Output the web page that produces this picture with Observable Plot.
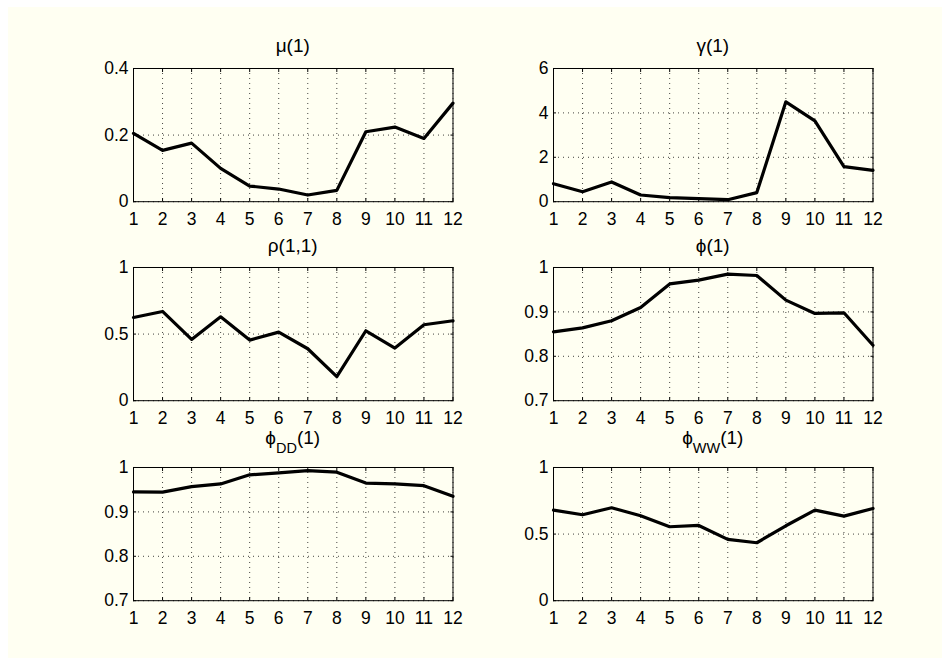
<!DOCTYPE html>
<html>
<head>
<meta charset="utf-8">
<script src="https://cdn.jsdelivr.net/npm/d3@7"></script>
<script src="https://cdn.jsdelivr.net/npm/@observablehq/plot@0.6"></script>
<style>
  html, body { margin: 0; padding: 0; background: #ffffff; }
  #page { position: relative; width: 950px; height: 665px; overflow: hidden; background: #ffffff; }
  #paper { position: absolute; left: 8px; top: 7px; width: 934px; height: 651px; background: #fffff2; }
  .panel { position: absolute; overflow: visible; }
</style>
</head>
<body>
<div id="page"><div id="paper"></div></div>
<script>
// Monthly parameter estimates
const months = [1, 2, 3, 4, 5, 6, 7, 8, 9, 10, 11, 12];
const muValues    = [0.205, 0.154, 0.176, 0.100, 0.047, 0.038, 0.020, 0.034, 0.210, 0.224, 0.190, 0.296];
const gammaValues = [0.81, 0.45, 0.89, 0.30, 0.18, 0.14, 0.09, 0.41, 4.50, 3.64, 1.58, 1.41];
const rhoValues   = [0.625, 0.670, 0.460, 0.630, 0.455, 0.515, 0.390, 0.180, 0.525, 0.395, 0.570, 0.600];
const phiValues   = [0.855, 0.864, 0.880, 0.910, 0.963, 0.9715, 0.985, 0.982, 0.9265, 0.8965, 0.898, 0.825];
const phiDDValues = [0.945, 0.9445, 0.957, 0.963, 0.9835, 0.988, 0.993, 0.9895, 0.965, 0.963, 0.959, 0.935];
const phiWWValues = [0.680, 0.645, 0.6975, 0.6375, 0.555, 0.565, 0.460, 0.435, 0.5625, 0.680, 0.635, 0.6925];

// Axis ticks
const muTicks    = [0, 0.2, 0.4];
const gammaTicks = [0, 2, 4, 6];
const unitTicks  = [0, 0.5, 1];
const phiTicks   = [0.7, 0.8, 0.9, 1];

// Panel titles: base symbol, optional subscript, trailing argument
const titles = [
  ["μ", "", "(1)"],
  ["γ", "", "(1)"],
  ["ρ", "", "(1,1)"],
  ["ϕ", "", "(1)"],
  ["ϕ", "DD", "(1)"],
  ["ϕ", "WW", "(1)"]
];

const panels = [
  {title: titles[0], values: muValues,    domain: [0, 0.4], ticks: muTicks},
  {title: titles[1], values: gammaValues, domain: [0, 6],   ticks: gammaTicks},
  {title: titles[2], values: rhoValues,   domain: [0, 1],   ticks: unitTicks},
  {title: titles[3], values: phiValues,   domain: [0.7, 1], ticks: phiTicks},
  {title: titles[4], values: phiDDValues, domain: [0.7, 1], ticks: phiTicks},
  {title: titles[5], values: phiWWValues, domain: [0, 1],   ticks: unitTicks}
];

// Layout: plot-area rectangles in page pixels, 3 rows x 2 columns
const colX = [133, 552.5];
const rowY = [67.5, 266.7, 466.7];
const frameW = 319.5, frameH = 133.2;
const titleGap = [16, 14.5, 22.5];   // baseline distance above the plot area, per row
const M = {left: 50, right: 24, top: 40, bottom: 32};
const FONT = "'Liberation Sans', Arial, Helvetica, sans-serif";
const TICK_SIZE = 17.5;
const fmt = d => String(d);

const page = document.getElementById("page");

panels.forEach((p, i) => {
  const row = Math.floor(i / 2), col = i % 2;
  const data = months.map((m, j) => ({month: m, value: p.values[j]}));
  const dotted = {stroke: "#000", strokeOpacity: 0.75, strokeWidth: 1, strokeDasharray: "1,4"};

  const svg = Plot.plot({
    width: frameW + M.left + M.right,
    height: frameH + M.top + M.bottom,
    marginLeft: M.left, marginRight: M.right, marginTop: M.top, marginBottom: M.bottom,
    style: {background: "transparent", fontFamily: FONT, color: "#000", overflow: "visible"},
    x: {domain: [1, 12], label: null},
    y: {domain: p.domain, label: null},
    marks: [
      Plot.gridX(months, dotted),
      Plot.gridY(p.ticks, dotted),
      Plot.frame({stroke: "#000", strokeWidth: 1}),
      Plot.axisX(months, {tickSize: 0, tickPadding: 11, tickFormat: fmt, fill: "#000", fontSize: TICK_SIZE}),
      Plot.axisX(months, {anchor: "bottom", tickSize: -3, tickFormat: () => ""}),
      Plot.axisX(months, {anchor: "top", tickSize: -3, tickFormat: () => ""}),
      Plot.axisY(p.ticks, {tickSize: 0, tickPadding: 5, tickFormat: fmt, fill: "#000", fontSize: TICK_SIZE}),
      Plot.axisY(p.ticks, {anchor: "left", tickSize: -3, tickFormat: () => ""}),
      Plot.axisY(p.ticks, {anchor: "right", tickSize: -3, tickFormat: () => ""}),
      Plot.lineY(data, {x: "month", y: "value", stroke: "#000", strokeWidth: 3.2})
    ]
  });

  // Title with optional subscript
  const [base, sub, tail] = p.title;
  const t = d3.select(svg).append("text")
    .attr("x", M.left + frameW / 2)
    .attr("y", M.top - titleGap[row])
    .attr("text-anchor", "middle")
    .attr("fill", "#000")
    .attr("font-family", FONT)
    .attr("font-size", 19);
  t.append("tspan").text(base);
  if (sub) {
    t.append("tspan").attr("dy", 8.7).attr("font-size", 14.5).text(sub);
    t.append("tspan").attr("dy", -8.7).text(tail);
  } else {
    t.append("tspan").text(tail);
  }

  svg.classList.add("panel");
  svg.style.left = (colX[col] - M.left) + "px";
  svg.style.top = (rowY[row] - M.top) + "px";
  page.appendChild(svg);
});
</script>
</body>
</html>
